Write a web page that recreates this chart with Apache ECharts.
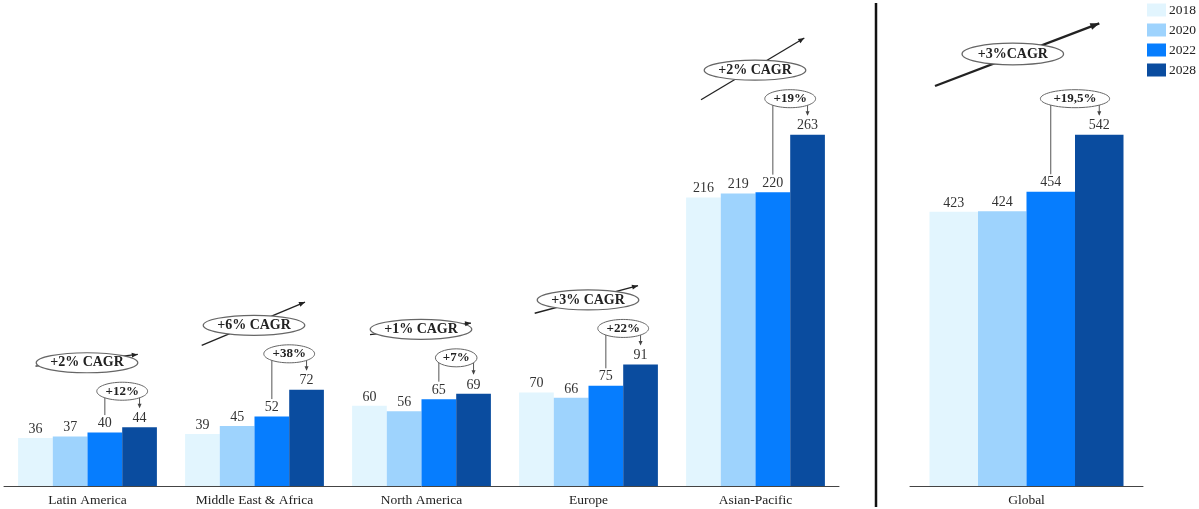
<!DOCTYPE html>
<html>
<head>
<meta charset="utf-8">
<script src="https://cdn.jsdelivr.net/npm/echarts@6/dist/echarts.min.js"></script>
<style>
  html, body { margin: 0; padding: 0; background: #fff; }
  #chart { width: 1199px; height: 509px; }
</style>
</head>
<body>
<div id="chart"></div>
<script>
// Regional market volumes by year
const regions = ['Latin America', 'Middle East & Africa', 'North America', 'Europe', 'Asian-Pacific'];
const years = ['2018', '2020', '2022', '2028'];
const r2018 = [36, 39, 60, 70, 216];
const r2020 = [37, 45, 56, 66, 219];
const r2022 = [40, 52, 65, 75, 220];
const r2028 = [44, 72, 69, 91, 263];
const regionGrowth = ['+12%', '+38%', '+7%', '+22%', '+19%'];
const regionCagr = ['+2% CAGR', '+6% CAGR', '+1% CAGR', '+3% CAGR', '+2% CAGR'];

// Global totals
const globalCat = ['Global'];
const g2018 = [423];
const g2020 = [424];
const g2022 = [454];
const g2028 = [542];
const globalGrowth = ['+19,5%'];
const globalCagr = ['+3%CAGR'];

// Styling / layout constants
const FONT = '"Liberation Serif", "Times New Roman", serif';
const COLORS = ['#e2f5fe', '#9ed3fd', '#067dfe', '#0a4c9f'];
const BAR_W_LEFT = 34.7;
const BAR_W_RIGHT = 48.5;
// trend arrow end points, relative to the CAGR ellipse centre: [x1, y1, x2, y2]
const regionArrowShape = [
  [-51.5, 3.4, 50.8, -8.3],
  [-52.3, 20, 51, -23.3],
  [-51, 5.3, 50, -6.3],
  [-53.3, 13.3, 50, -14.3],
  [-54, 29.5, 49.3, -32.2]
];
const globalArrowShape = [-77.8, 32, 86.5, -30.7];

const chart = echarts.init(document.getElementById('chart'), null, { renderer: 'canvas' });

const leftSets = [r2018, r2020, r2022, r2028];
const rightSets = [g2018, g2020, g2022, g2028];

const labelStyle = {
  show: true, position: 'top', distance: 2,
  fontFamily: FONT, fontSize: 14, color: '#333'
};

const series = [];
years.forEach((y, i) => {
  series.push({
    name: y, type: 'bar', xAxisIndex: 0, yAxisIndex: 0,
    data: leftSets[i], barWidth: BAR_W_LEFT, barGap: '0%',
    itemStyle: { color: COLORS[i] }, label: labelStyle
  });
});
years.forEach((y, i) => {
  series.push({
    name: y, type: 'bar', xAxisIndex: 1, yAxisIndex: 1,
    data: rightSets[i], barWidth: BAR_W_RIGHT, barGap: '0%',
    itemStyle: { color: COLORS[i] }, label: labelStyle
  });
});

const catAxis = (data, idx) => ({
  type: 'category', gridIndex: idx, data: data,
  axisLine: { lineStyle: { color: '#444', width: 1 } },
  axisTick: { show: false },
  axisLabel: { fontFamily: FONT, fontSize: 13.5, color: '#222', margin: 7 }
});
const valAxis = (idx) => ({
  type: 'value', gridIndex: idx, min: 0, max: 'dataMax',
  show: false, splitLine: { show: false }
});

chart.setOption({
  animation: false,
  backgroundColor: '#fff',
  grid: [
    { left: 4, width: 835, top: 134.7, bottom: 23 },
    { left: 910, width: 233, top: 134.7, bottom: 23 }
  ],
  legend: {
    data: years, orient: 'vertical', right: 3, top: 3, padding: 0,
    itemWidth: 19, itemHeight: 13, itemGap: 6,
    icon: 'rect',
    textStyle: { fontFamily: FONT, fontSize: 13.5, color: '#222', padding: [0, 0, 0, -2] }
  },
  xAxis: [catAxis(regions, 0), catAxis(globalCat, 1)],
  yAxis: [valAxis(0), valAxis(1)],
  series: series
});

// ---- annotations: growth brackets and CAGR trend arrows ----
function arrowHead(x1, y1, x2, y2, len, half, color) {
  const a = Math.atan2(y2 - y1, x2 - x1);
  const bx = x2 - len * Math.cos(a), by = y2 - len * Math.sin(a);
  const px = -Math.sin(a) * half, py = Math.cos(a) * half;
  return {
    type: 'polygon', silent: true, z: 12,
    shape: { points: [[x2, y2], [bx + px, by + py], [bx - px, by - py]] },
    style: { fill: color }
  };
}

function buildAnnotations(gridIdx, cats, sets, growth, cagr, arrows, barW, cagrDx, cagrDy, thick) {
  const els = [];
  const finder = { xAxisIndex: gridIdx, yAxisIndex: gridIdx };
  cats.forEach((c, i) => {
    const p22 = chart.convertToPixel(finder, [i, sets[2][i]]);
    const p28 = chart.convertToPixel(finder, [i, sets[3][i]]);
    const centre = p28[0];
    // the four bars sit side by side around the category centre
    const bx22 = centre + (2 - 1.5) * barW;
    const bx28 = centre + (3 - 1.5) * barW;
    const ey = p28[1] - 36;
    const ex = (bx22 + bx28) / 2;
    const txt = growth[i];
    const rx = txt.length * 4.6 + 7;
    // bracket from the 2022 bar to the ellipse
    els.push({ type: 'line', silent: true, z: 10,
      shape: { x1: bx22, y1: ey, x2: bx22, y2: p22[1] - 17.5 },
      style: { stroke: '#555', lineWidth: 1 } });
    // arrow down to the 2028 bar
    els.push({ type: 'line', silent: true, z: 10,
      shape: { x1: bx28, y1: ey, x2: bx28, y2: p28[1] - 20 },
      style: { stroke: '#555', lineWidth: 1 } });
    els.push(arrowHead(bx28, ey, bx28, p28[1] - 19, 4.5, 2, '#444'));
    els.push({ type: 'ellipse', silent: true, z: 11,
      shape: { cx: ex, cy: ey, rx: rx, ry: 9 },
      style: { fill: '#fff', stroke: '#666', lineWidth: 1 } });
    els.push({ type: 'text', silent: true, z: 13,
      x: ex, y: ey,
      style: { text: txt, fontFamily: FONT, fontSize: 13, fontWeight: 'bold', fill: '#222',
        align: 'center', verticalAlign: 'middle' } });

    // CAGR trend arrow with its label
    const cx = centre + cagrDx, cy = p28[1] + cagrDy;
    const s = arrows[i];
    const x1 = cx + s[0], y1 = cy + s[1], x2 = cx + s[2], y2 = cy + s[3];
    els.push({ type: 'line', silent: true, z: 10,
      shape: { x1: x1, y1: y1, x2: x2, y2: y2 },
      style: { stroke: '#222', lineWidth: thick ? 2.4 : 1.3 } });
    els.push(arrowHead(x1, y1, x2, y2, thick ? 9 : 6, thick ? 3.5 : 2.5, '#222'));
    els.push({ type: 'ellipse', silent: true, z: 11,
      shape: { cx: cx, cy: cy, rx: 50.8, ry: thick ? 10.8 : 10 },
      style: { fill: '#fff', stroke: '#666', lineWidth: 1.2 } });
    els.push({ type: 'text', silent: true, z: 13,
      x: cx, y: cy,
      style: { text: cagr[i], fontFamily: FONT, fontSize: 14, fontWeight: 'bold', fill: '#222',
        align: 'center', verticalAlign: 'middle' } });
  });
  return els;
}

const graphics = [].concat(
  buildAnnotations(0, regions, leftSets, regionGrowth, regionCagr, regionArrowShape, BAR_W_LEFT, -0.5, -64.5, false),
  buildAnnotations(1, globalCat, rightSets, globalGrowth, globalCagr, [globalArrowShape], BAR_W_RIGHT, -13.7, -80.7, true)
);

// divider between the regional and global panels
graphics.push({ type: 'line', silent: true, z: 5,
  shape: { x1: 876, y1: 3, x2: 876, y2: 507 },
  style: { stroke: '#111', lineWidth: 2.5 } });

chart.setOption({ graphic: graphics });
</script>
</body>
</html>
